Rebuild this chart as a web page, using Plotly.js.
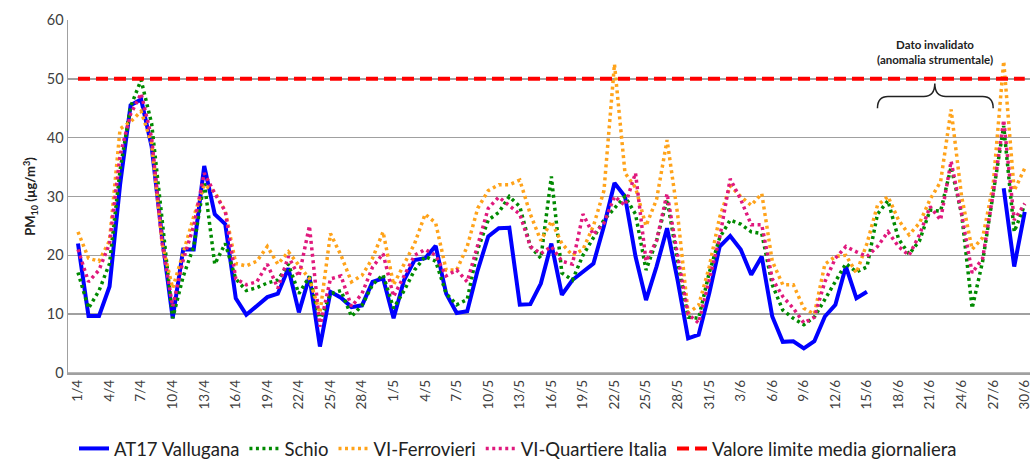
<!DOCTYPE html>
<html>
<head>
<meta charset="utf-8">
<script src="https://cdn.plot.ly/plotly-3.0.1.min.js"></script>
<style>html,body{margin:0;padding:0;background:#fff;}#chart{width:1036px;height:459px;}</style>
</head>
<body>
<div id="chart"></div>
<script>
// Day labels 1/4 .. 30/6
const categories = [
 "1/4","2/4","3/4","4/4","5/4","6/4","7/4","8/4","9/4","10/4","11/4","12/4","13/4","14/4","15/4","16/4","17/4","18/4","19/4","20/4","21/4","22/4","23/4","24/4","25/4","26/4","27/4","28/4","29/4","30/4",
 "1/5","2/5","3/5","4/5","5/5","6/5","7/5","8/5","9/5","10/5","11/5","12/5","13/5","14/5","15/5","16/5","17/5","18/5","19/5","20/5","21/5","22/5","23/5","24/5","25/5","26/5","27/5","28/5","29/5","30/5","31/5",
 "1/6","2/6","3/6","4/6","5/6","6/6","7/6","8/6","9/6","10/6","11/6","12/6","13/6","14/6","15/6","16/6","17/6","18/6","19/6","20/6","21/6","22/6","23/6","24/6","25/6","26/6","27/6","28/6","29/6","30/6"
];
const tickLabels = ["1/4","4/4","7/4","10/4","13/4","16/4","19/4","22/4","25/4","28/4","1/5","4/5","7/5","10/5","13/5","16/5","19/5","22/5","25/5","28/5","31/5","3/6","6/6","9/6","12/6","15/6","18/6","21/6","24/6","27/6","30/6"];

const at17 = [
 22,9.7,9.7,14.7,32,45.5,46.5,38.5,23,9.3,21,21,35.2,27,25.3,12.7,9.9,11.4,12.9,13.5,17.8,10.3,16.4,4.5,13.8,12.8,11.2,11.5,15.5,16.1,
 9.3,15.8,19.2,19.5,21.6,13.5,10.2,10.5,17.5,23.2,24.6,24.7,11.6,11.7,15.2,22,13.3,15.8,17.2,18.6,25,32.3,30,19.8,12.4,18.1,24.6,15.8,5.9,6.5,13.5,
 21.5,23.3,21,16.7,19.8,9.6,5.3,5.4,4.2,5.4,9.6,11.6,18.1,12.7,13.8,null,null,null,null,null,null,null,null,null,null,null,null,31.4,18.1,27.4
];
const schio = [
 17.1,11,14,18.6,34.5,45.3,49.8,42.4,26,9.3,16.4,21.5,32.5,18.5,22,16,14,14.5,15.3,15.8,18.5,13.5,16.4,8.8,13.5,14,9.6,11.5,15,16.7,
 11,14,17.5,19.8,19,13.5,11.6,12.5,21,26,27.3,30,28.3,21.5,19.5,33.4,17,15.8,20,23,26,28,30,27,17.5,22.5,29.5,19,9.5,9.3,17,
 23,26,25.3,24,23.7,15,10.7,9.3,8.2,9.5,12.5,15.5,18.6,17.2,18,27,29.3,22.8,20.2,22.5,27.7,27.5,35,27,11,19,31,42,24,28.6
];
const ferrovieri = [
 24,19.5,19,22.5,41.5,42.7,44.5,39,22,14.4,20.4,26.6,32,30.8,27.5,18.6,18.2,19,21.5,18.5,20.6,18.4,16,10.2,23.7,20,15.5,16.6,19.5,24,
 15,18.5,22,27,25.5,17.5,17.5,21.5,28,31,32,32,32.8,27,22.5,25.8,22,20,21,25,31,52.5,34,31.5,25,29.5,39.6,27,10.2,11.5,18,
 26.5,31.8,30,28.5,30.5,19,15,15,11,10,18.5,19.8,20,17,22,28.5,30,26,23.5,25.5,29.5,32.5,44.8,30,21,23,32,53,31,34.8
];
const quartiereItalia = [
 21,15.5,17.5,22,37,44,47.5,40,22,11.3,19.2,25,34,30.5,27.5,16,15,15.5,18.5,14.4,19.8,16.4,25,7.9,16,16.5,11.3,13.5,18,20.3,
 13,16.5,20,21,20,16.5,17.5,15.5,22,28,29.9,28.5,27,21.5,20.3,21.5,19,18.5,27,23.5,25.5,30,28.5,34,19,22.5,30.5,20,10,8.5,16,
 23,33,29.5,25.2,25.2,16,13,11,8.5,9.5,15.5,19.5,21.5,20.6,19.8,21.5,24,21.5,20,23.5,28.3,26,36,27,17,19.5,30.5,43,26,28.8
];
const limitValue = 50;
const limit = categories.map(() => limitValue);

const seriesNames = ["AT17 Vallugana","Schio","VI-Ferrovieri","VI-Quartiere Italia","Valore limite media giornaliera"];
const xIdx = categories.map((_, i) => i);
const tickIdx = tickLabels.map(t => categories.indexOf(t));

const dotDash = '3px,3.5px';
const traces = [
 {x:xIdx, y:at17, name:seriesNames[0], mode:'lines', line:{color:'#0000FF', width:4}, connectgaps:false},
 {x:xIdx, y:schio, name:seriesNames[1], mode:'lines', line:{color:'#008A00', width:3.5, dash:dotDash}},
 {x:xIdx, y:ferrovieri, name:seriesNames[2], mode:'lines', line:{color:'#FFA31A', width:3.5, dash:dotDash}},
 {x:xIdx, y:quartiereItalia, name:seriesNames[3], mode:'lines', line:{color:'#E0197D', width:3.5, dash:dotDash}},
 {x:xIdx, y:limit, name:seriesNames[4], mode:'lines', line:{color:'#FF0000', width:4, dash:'12px,6px'}}
];

const layout = {
 width:1036, height:459,
 margin:{l:68, r:6, t:20, b:86},
 paper_bgcolor:'#fff', plot_bgcolor:'#fff',
 font:{family:'Lato, "Open Sans", sans-serif', color:'#404040'},
 showlegend:true,
 legend:{orientation:'h', x:0.5, xref:'container', xanchor:'center', yref:'container', y:0.022, yanchor:'middle',
         font:{size:18.5, color:'#222'}, itemwidth:30, tracegroupgap:0, bgcolor:'rgba(0,0,0,0)'},
 xaxis:{
  range:[-0.95, 90.5], tickmode:'array', tickvals:tickIdx, ticktext:tickLabels, tickangle:-90,
  tickfont:{size:13.5, color:'#404040'}, showgrid:false, zeroline:false, automargin:false,
  showline:true, linecolor:'#a0a0a0', linewidth:1.5, ticks:'', fixedrange:true
 },
 yaxis:{
  range:[0,60], dtick:10, tickfont:{size:14.5, color:'#404040'}, showgrid:true, gridcolor:'#a0a0a0', gridwidth:1.5,
  zeroline:false, showline:true, linecolor:'#a0a0a0', linewidth:1.5, ticks:'', automargin:false,
  title:{text:'<b>PM<sub>10</sub> (µg/m<sup>3</sup>)</b>', font:{size:13, color:'#222'}, standoff:8}
 },
 shapes:[
  {type:'line', xref:'paper', yref:'y', x0:0, x1:1, y0:0, y1:0, line:{color:'#a0a0a0', width:1.5}, layer:'below'},
  {type:'path', xref:'x', yref:'y', layer:'above',
   path:'M 76,45 Q 76,47 77,47 L 80.4,47 Q 81.45,47 81.45,49.2 Q 81.45,47 82.5,47 L 86,47 Q 87,47 87,45',
   line:{color:'#222', width:1.5}}
 ],
 annotations:[
  {x:81.45, y:54.6, xref:'x', yref:'y', showarrow:false, text:'<b>Dato invalidato</b><br><b>(anomalia strumentale)</b>', font:{size:11.5, color:'#222'}, align:'center'}
 ]
};

Plotly.newPlot('chart', traces, layout, {staticPlot:true, displayModeBar:false});
</script>
</body>
</html>
